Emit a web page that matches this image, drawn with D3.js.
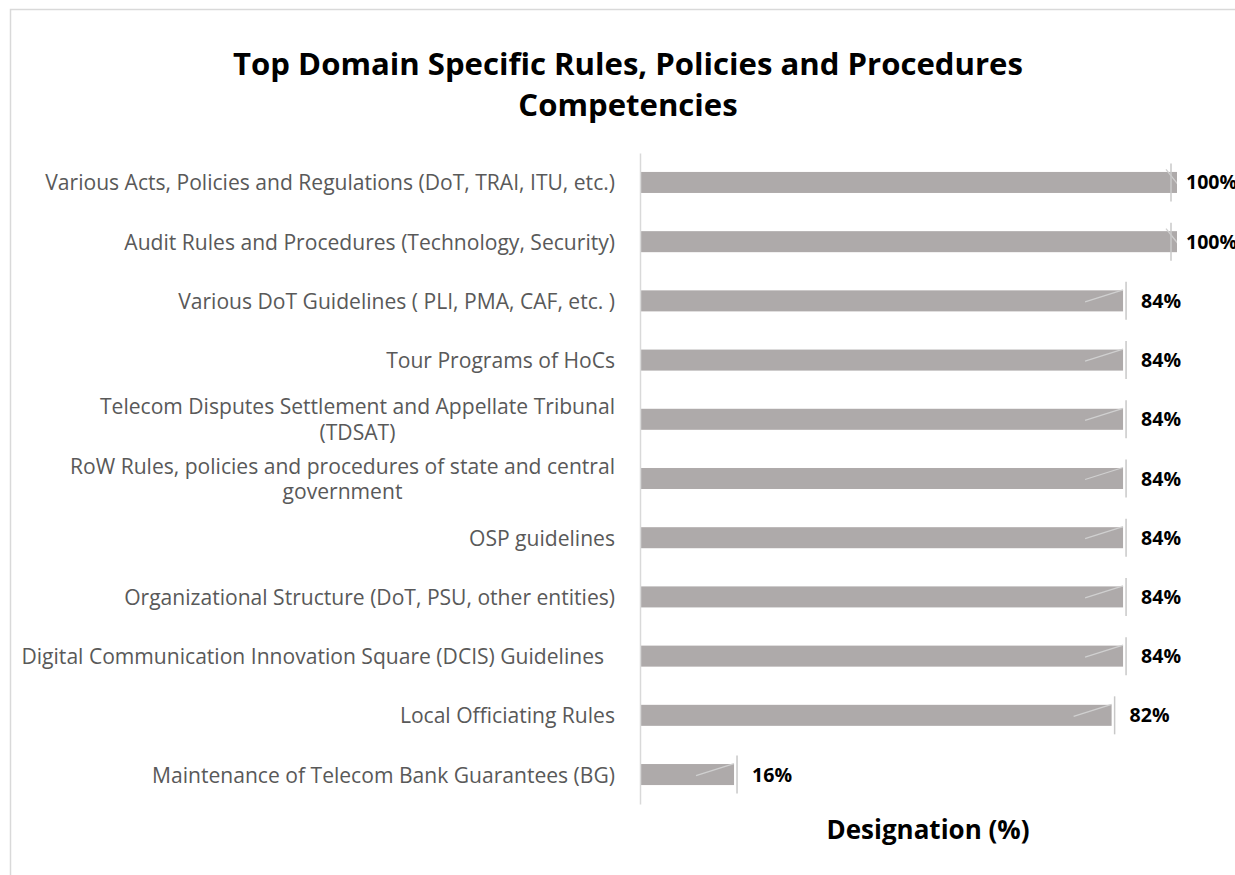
<!DOCTYPE html>
<html><head><meta charset="utf-8">
<script src="https://cdn.jsdelivr.net/npm/d3@7"></script>
<style>body{margin:0;background:#fff}svg{display:block}</style>
</head><body>
<script>
const categories = [
  ["Various Acts, Policies and Regulations (DoT, TRAI, ITU, etc.)"],
  ["Audit Rules and Procedures (Technology, Security)"],
  ["Various DoT Guidelines ( PLI, PMA, CAF, etc. )"],
  ["Tour Programs of HoCs"],
  ["Telecom Disputes Settlement and Appellate Tribunal", "(TDSAT)"],
  ["RoW Rules, policies and procedures of state and central", "government"],
  ["OSP guidelines"],
  ["Organizational Structure (DoT, PSU, other entities)"],
  ["Digital Communication Innovation Square (DCIS) Guidelines\u00a0\u00a0"],
  ["Local Officiating Rules"],
  ["Maintenance of Telecom Bank Guarantees (BG)"]
];
const values = [100, 100, 84, 84, 84, 84, 84, 84, 84, 82, 16];
const valueLabels = ["100%", "100%", "84%", "84%", "84%", "84%", "84%", "84%", "84%", "82%", "16%"];
const titleLines = ["Top Domain Specific Rules, Policies and Procedures", "Competencies"];
const axisTitle = "Designation (%)";

const W = 1235, H = 875;
const svg = d3.select("body").append("svg").attr("width", W).attr("height", H);
const font = "'Open Sans', sans-serif";

function fitSize(sel, target, base) {
  sel.attr("font-size", base);
  const w = sel.node().getComputedTextLength();
  return base * target / w;
}

// frame
svg.append("rect").attr("x", 10.5).attr("y", 9.5).attr("width", 1300).attr("height", 1000)
  .attr("fill", "none").attr("stroke", "#d9d9d9").attr("stroke-width", 1.5);

// title
const title = svg.append("text").attr("x", 628).attr("y", 75).attr("text-anchor", "middle")
  .attr("font-family", font).attr("font-weight", "bold").attr("fill", "#000");
title.selectAll("tspan").data(titleLines).join("tspan")
  .attr("x", 628).attr("dy", (d, i) => i ? 41 : 0).text(d => d);
{
  const t0 = title.select("tspan");
  title.attr("font-size", 30);
  const w = t0.node().getComputedTextLength();
  title.attr("font-size", 30 * 790 / w);
}

const plotLeft = 640, plotRight = 1175, plotTop = 153, plotBottom = 804;
const x = d3.scaleLinear().domain([0, 100]).range([642.5, 1214.6]);
const y = d3.scaleBand().domain(d3.range(categories.length)).range([plotTop, plotBottom]).paddingInner(0.645).paddingOuter(0.32);

svg.append("defs").append("clipPath").attr("id", "pc")
  .append("rect").attr("x", plotLeft).attr("y", plotTop).attr("width", plotRight + 2 - plotLeft).attr("height", plotBottom - plotTop);

const g = svg.append("g").attr("clip-path", "url(#pc)");
const bh = y.bandwidth();
const cy = i => y(i) + bh / 2;

g.selectAll("rect.bar").data(values).join("rect").attr("class", "bar")
  .attr("x", plotLeft + 1).attr("y", (d, i) => y(i))
  .attr("width", d => x(d) - plotLeft - 1).attr("height", bh).attr("fill", "#aeaaaa");

// leader diagonal lines inside bars
g.selectAll("line.diag").data(values).join("line").attr("class", "diag")
  .attr("x1", d => x(d) >= plotRight ? plotRight - 9 : x(d) - 38)
  .attr("y1", (d, i) => x(d) >= plotRight ? cy(i) - 13 : cy(i) + 1)
  .attr("x2", d => x(d) >= plotRight ? plotRight + 3 : x(d))
  .attr("y2", (d, i) => x(d) >= plotRight ? cy(i) + 2 : cy(i) - 11)
  .attr("stroke", "#d0d0d0").attr("stroke-width", 1.3);

// vertical leader ticks
svg.selectAll("line.vt").data(values).join("line").attr("class", "vt")
  .attr("x1", d => Math.min(x(d) + 3, plotRight - 4)).attr("x2", d => Math.min(x(d) + 3, plotRight - 4))
  .attr("y1", (d, i) => cy(i) - 19).attr("y2", (d, i) => cy(i) + 19)
  .attr("stroke", "#c8c8c8").attr("stroke-width", 1.5);

// axis line
const yAxis = d3.axisLeft(y).tickSize(0).tickFormat("");
const ax = svg.append("g").attr("transform", `translate(${plotLeft},0)`).call(yAxis);
ax.select(".domain").attr("stroke", "#d9d9d9").attr("stroke-width", 1.5);

// category labels
const lab = svg.append("g").attr("font-family", font).attr("fill", "#595959");
{
  const probe = lab.append("text").text(categories[0][0]);
  const fs = fitSize(probe, 570, 17);
  probe.remove();
  lab.attr("font-size", fs);
}
categories.forEach((lines, i) => {
  const t = lab.append("text").attr("y", cy(i) + 8 - (lines.length - 1) * 13);
  lines.forEach((l, j) => t.append("tspan").attr("x", 615).attr("dy", j ? 25.5 : 0).text(l));
  const widths = [];
  t.selectAll("tspan").each(function () { widths.push(this.getComputedTextLength()); });
  const maxW = d3.max(widths);
  t.selectAll("tspan").attr("text-anchor", "middle").attr("x", 615 - maxW / 2);
});

// value labels
const vl = svg.append("g").attr("font-family", font).attr("font-weight", "bold").attr("fill", "#000");
{
  const probe = vl.append("text").text("84%");
  const fs = fitSize(probe, 40, 17);
  probe.remove();
  vl.attr("font-size", fs);
}
vl.selectAll("text").data(values).join("text")
  .attr("x", d => Math.min(x(d) + 3, plotRight - 4) + 15).attr("y", (d, i) => cy(i) + 7)
  .text((d, i) => valueLabels[i]);

// axis title
const at = svg.append("text").attr("x", 928).attr("y", 839).attr("text-anchor", "middle")
  .attr("font-family", font).attr("font-weight", "bold").attr("fill", "#000")
  .text(axisTitle);
at.attr("font-size", fitSize(at, 203, 24));
</script>
</body></html>
